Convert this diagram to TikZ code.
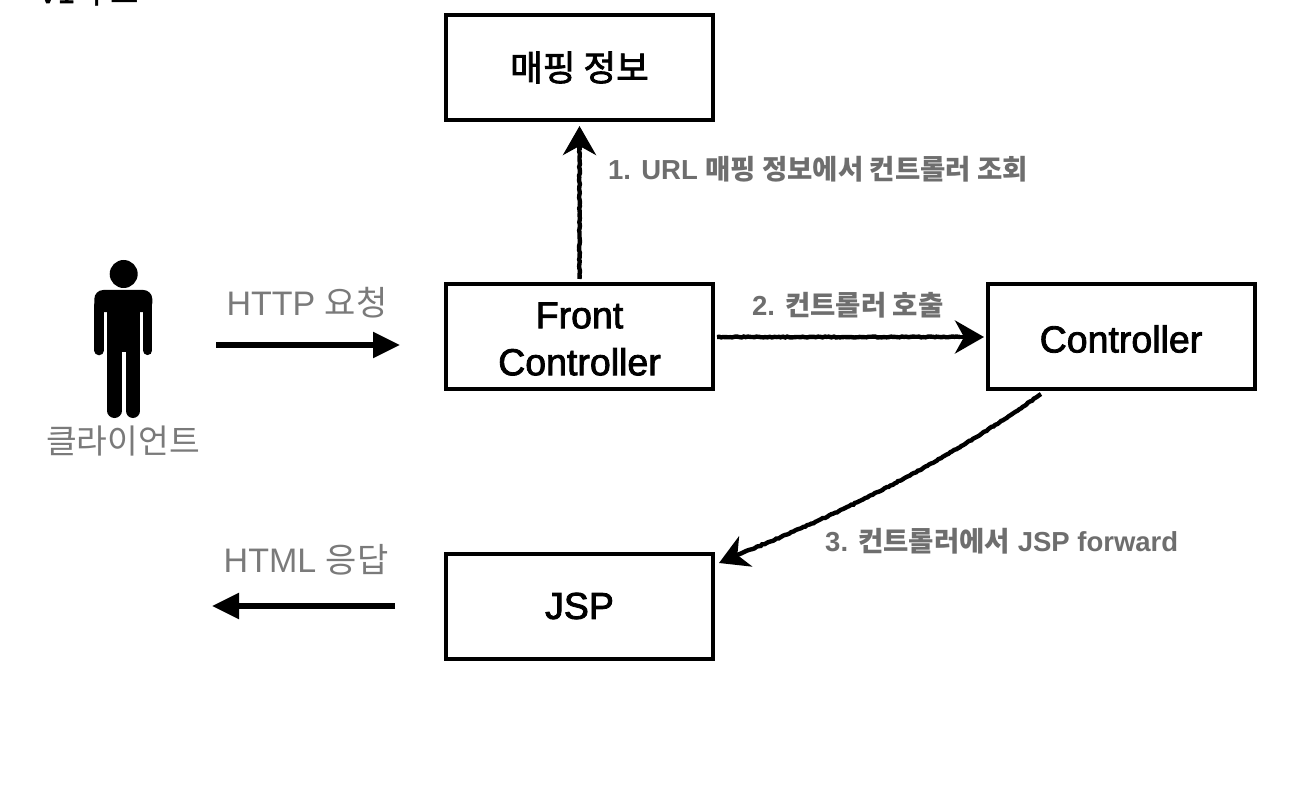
\documentclass[tikz,border=0pt]{standalone}
\usepackage{fontspec}
\setmainfont{Liberation Sans}
\newfontfamily\kr{Noto Sans CJK KR}
\newfontfamily\boxfont[FakeBold=2.2]{Liberation Sans}
\newfontfamily\krbox[FakeBold=2.2]{Noto Sans CJK KR}
\usetikzlibrary{arrows.meta,decorations.pathmorphing,calc}
\definecolor{labelgray}{HTML}{6E6E6E}
\definecolor{softgray}{HTML}{7A7A7A}
\tikzset{
  blockbox/.style={draw=black,line width=4pt,minimum width=267pt,minimum height=105pt,inner sep=0pt},
  boxtext/.style={inner sep=0pt,align=center,text=black,font=\fontsize{37.5}{47}\selectfont\boxfont},
  roughline/.style={black,line width=4.4pt,decorate,decoration={random steps,segment length=2.2pt,amplitude=0.5pt}},
  roughtip/.style={black,line width=4.4pt,-{Stealth[length=29pt,width=33pt,inset=9pt]}},
  solidarrow/.style={black,line width=5.5pt,-{Triangle[length=27pt,width=25pt]}},
  steplabel/.style={inner sep=0pt,text=labelgray,font=\fontsize{27.5}{30}\selectfont\bfseries},
  softlabel/.style={inner sep=0pt,text=softgray,font=\fontsize{34}{38}\selectfont},
}
\begin{document}
\begin{tikzpicture}[x=1pt,y=-1pt]
\useasboundingbox (0,0) rectangle (1298,786);
\fill[white] (0,0) rectangle (1298,786);
\node[inner sep=0pt,anchor=base,text=black,font=\fontsize{30}{34}\selectfont\boxfont] (title) at (88,3) {V1 {\krbox 구조}};
\node[blockbox] (map) at (579.5,67.5) {};
\node[boxtext,font=\fontsize{35.5}{46}\selectfont\krbox] (mapT) at (579.5,67.5) {매핑 정보};
\node[blockbox] (front) at (579.5,336.5) {};
\node[boxtext] (frontT) at (579.5,339) {Front\\Controller};
\node[blockbox] (ctrl) at (1121,336.5) {};
\node[boxtext] (ctrlT) at (1121,339) {Controller};
\node[blockbox] (jsp) at (579.5,606) {};
\node[boxtext] (jspT) at (579.5,606) {JSP};
% person
\fill[black] (123.7,274) circle (14);
\fill[black,rounded corners=9pt] (94.3,312) -- (94.3,290) -- (152.3,290) -- (152.3,312) -- cycle;
\fill[black] (107.3,300) rectangle (140,352);
\draw[black,line width=9.6pt,line cap=round] (99.1,305) -- (99.1,350.5);
\draw[black,line width=9.2pt,line cap=round] (147.7,305) -- (147.7,350.5);
\draw[black,line width=14.4pt,line cap=round] (114.5,345) -- (114.5,410.8);
\draw[black,line width=14.4pt,line cap=round] (132.9,345) -- (132.9,410.8);
\node[softlabel,font=\fontsize{33.4}{38}\selectfont\kr] (client) at (123,441) {클라이언트};
\coordinate (reqS) at (216,345);
\coordinate (reqE) at (400,345);
\coordinate (resS) at (395,606);
\coordinate (resE) at (212,606);
\draw[solidarrow] (reqS) -- (reqE);
\draw[solidarrow] (resS) -- (resE);
\node[softlabel] (reqL) at (307,303) {HTTP {\kr 요청}};
\node[softlabel] (resL) at (306,560) {HTML {\kr 응답}};
\coordinate (a1s) at (579.5,279);
\coordinate (a1m) at (579.5,150);
\coordinate (a1e) at (579.5,126);
\draw[roughline] (a1s) -- (a1m);
\draw[roughtip] (a1m) -- (a1e);
\coordinate (a2s) at (717,337);
\coordinate (a2m) at (960,337);
\coordinate (a2e) at (984,337);
\draw[roughline] (a2s) -- (a2m);
\draw[roughtip] (a2m) -- (a2e);
\coordinate (a3s) at (1041,394);
\coordinate (a3m) at (742,553);
\coordinate (a3e) at (719,563);
\draw[roughline] (a3s) .. controls (945,462) and (845,512) .. (a3m);
\draw[roughtip] (a3m) -- (a3e);
\node[steplabel,anchor=west] (l1) at (608,169) {1. URL {\kr\bfseries 매핑 정보에서 컨트롤러 조회}};
\node[steplabel,anchor=west] (l2) at (752,305) {2. {\kr\bfseries 컨트롤러 호출}};
\node[steplabel,anchor=west] (l3) at (825,541) {3. {\kr\bfseries 컨트롤러에서} JSP forward};
\end{tikzpicture}
\end{document}
